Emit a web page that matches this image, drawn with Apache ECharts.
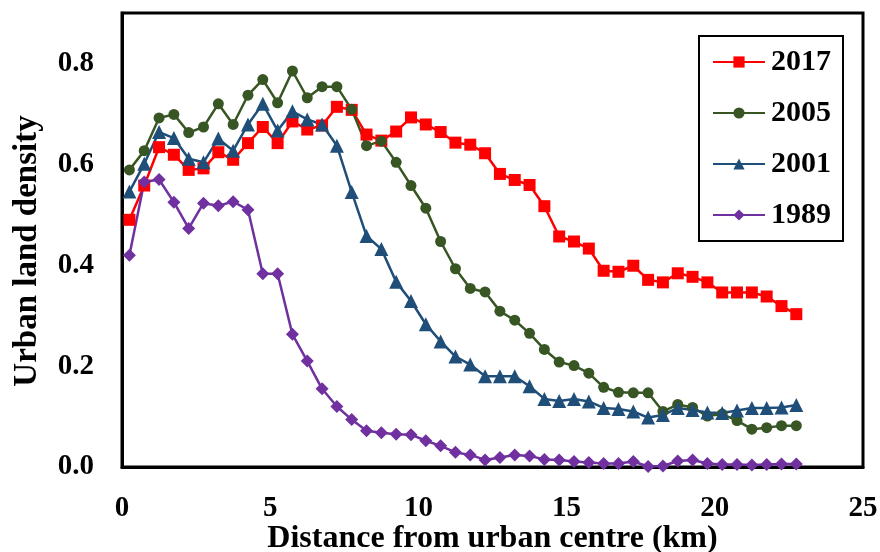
<!DOCTYPE html>
<html>
<head>
<meta charset="utf-8">
<script src="https://cdn.jsdelivr.net/npm/echarts@6/dist/echarts.min.js"></script>
<style>
html,body{margin:0;padding:0;background:#fff;}
#chart{width:880px;height:552px;}
</style>
</head>
<body>
<div id="chart"></div>
<script>
// Distance from urban centre (km)
const distance = [0.25,0.75,1.25,1.75,2.25,2.75,3.25,3.75,4.25,4.75,
  5.25,5.75,6.25,6.75,7.25,7.75,8.25,8.75,9.25,9.75,
  10.25,10.75,11.25,11.75,12.25,12.75,13.25,13.75,14.25,14.75,
  15.25,15.75,16.25,16.75,17.25,17.75,18.25,18.75,19.25,19.75,
  20.25,20.75,21.25,21.75,22.25,22.75];

const seriesNames = ['2017','2005','2001','1989'];

const d2017 = [0.490,0.558,0.634,0.619,0.589,0.592,0.624,0.609,0.642,0.674,
  0.642,0.685,0.669,0.677,0.714,0.708,0.659,0.647,0.665,0.693,
  0.679,0.664,0.643,0.639,0.622,0.581,0.569,0.559,0.517,0.457,
  0.447,0.433,0.389,0.387,0.399,0.371,0.366,0.384,0.377,0.366,
  0.346,0.346,0.346,0.338,0.319,0.303];

const d2005 = [0.589,0.627,0.692,0.699,0.663,0.674,0.720,0.679,0.737,0.768,
  0.722,0.785,0.732,0.754,0.754,0.709,0.637,0.646,0.604,0.558,
  0.513,0.447,0.393,0.354,0.347,0.309,0.291,0.265,0.233,0.208,
  0.201,0.186,0.158,0.148,0.147,0.147,0.110,0.124,0.118,0.101,
  0.105,0.092,0.075,0.078,0.082,0.082];

const d2001 = [0.546,0.601,0.664,0.652,0.611,0.604,0.651,0.627,0.679,0.720,
  0.667,0.705,0.689,0.679,0.637,0.545,0.458,0.432,0.367,0.329,
  0.283,0.249,0.219,0.203,0.180,0.180,0.180,0.160,0.135,0.131,
  0.135,0.130,0.117,0.115,0.110,0.098,0.103,0.117,0.113,0.108,
  0.107,0.112,0.117,0.117,0.118,0.123];

const d1989 = [0.420,0.565,0.570,0.525,0.473,0.523,0.518,0.526,0.510,0.383,
  0.383,0.263,0.210,0.155,0.120,0.094,0.072,0.068,0.065,0.064,
  0.052,0.042,0.029,0.024,0.014,0.019,0.024,0.022,0.015,0.014,
  0.011,0.009,0.007,0.007,0.011,0.001,0.002,0.012,0.014,0.007,
  0.005,0.005,0.004,0.005,0.006,0.006];

const xTicks = [0,5,10,15,20,25];
const yTicks = ['0.0','0.2','0.4','0.6','0.8'];

const FONT = '"Liberation Serif", "Times New Roman", serif';
const allData = [d2017, d2005, d2001, d1989];
const colors = ['#FF0000', '#375623', '#1F4E79', '#7030A0'];
const symbols = ['rect', 'circle', 'triangle', 'diamond'];
const symSizes = [12, 11, 14, 13];
const lineWidths = [2.5, 2.5, 2.5, 2.5];

const chart = echarts.init(document.getElementById('chart'), null, {renderer: 'canvas'});

const series = seriesNames.map((name, s) => ({
  name: name,
  type: 'line',
  data: distance.map((x, i) => [x, allData[s][i]]),
  symbol: symbols[s],
  symbolSize: symSizes[s],
  showAllSymbol: true,
  color: colors[s],
  lineStyle: {color: colors[s], width: lineWidths[s]},
  itemStyle: {color: colors[s]},
  emphasis: {disabled: true}
}));

chart.setOption({
  animation: false,
  backgroundColor: '#fff',
  textStyle: {fontFamily: FONT},
  grid: {
    left: 122, right: 17, top: 13, bottom: 85,
    containLabel: false,
    outerBoundsMode: 'none',
    show: true, borderColor: '#000', borderWidth: 3, backgroundColor: 'transparent'
  },
  legend: {
    data: seriesNames,
    orient: 'vertical',
    left: 699, top: 36,
    padding: [11, 12, 11, 13],
    itemGap: 21,
    itemWidth: 52,
    itemHeight: 14,
    borderColor: '#000',
    borderWidth: 2,
    backgroundColor: '#fff',
    textStyle: {fontFamily: FONT, fontWeight: 'bold', fontSize: 30, color: '#000', padding: [0,0,0,1]}
  },
  xAxis: {
    type: 'value',
    min: 0, max: 25, interval: 5,
    name: 'Distance from urban centre (km)',
    nameLocation: 'middle',
    nameGap: 56,
    nameMoveOverlap: false,
    nameTextStyle: {fontFamily: FONT, fontWeight: 'bold', fontSize: 32, color: '#000'},
    axisLine: {show: true, onZero: false, lineStyle: {color: '#000', width: 3}},
    axisTick: {show: false},
    splitLine: {show: false},
    axisLabel: {
      fontFamily: FONT, fontWeight: 'bold', fontSize: 29, color: '#000', margin: 27,
      formatter: v => xTicks.indexOf(v) >= 0 ? String(v) : ''
    }
  },
  yAxis: {
    type: 'value',
    min: 0, max: 0.9, interval: 0.2,
    name: 'Urban land density',
    nameLocation: 'middle',
    nameGap: 78,
    nameMoveOverlap: false,
    nameRotate: 90,
    nameTextStyle: {fontFamily: FONT, fontWeight: 'bold', fontSize: 33, color: '#000', padding: [0, 22, 0, 0]},
    axisLine: {show: true, lineStyle: {color: '#000', width: 3}},
    axisTick: {show: false},
    splitLine: {show: false},
    axisLabel: {
      fontFamily: FONT, fontWeight: 'bold', fontSize: 29, color: '#000', margin: 28,
      formatter: v => {
        const idx = Math.round(v / 0.2);
        return (Math.abs(v - idx * 0.2) < 1e-6 && idx < yTicks.length) ? yTicks[idx] : '';
      }
    }
  },
  series: series
});
</script>
</body>
</html>
